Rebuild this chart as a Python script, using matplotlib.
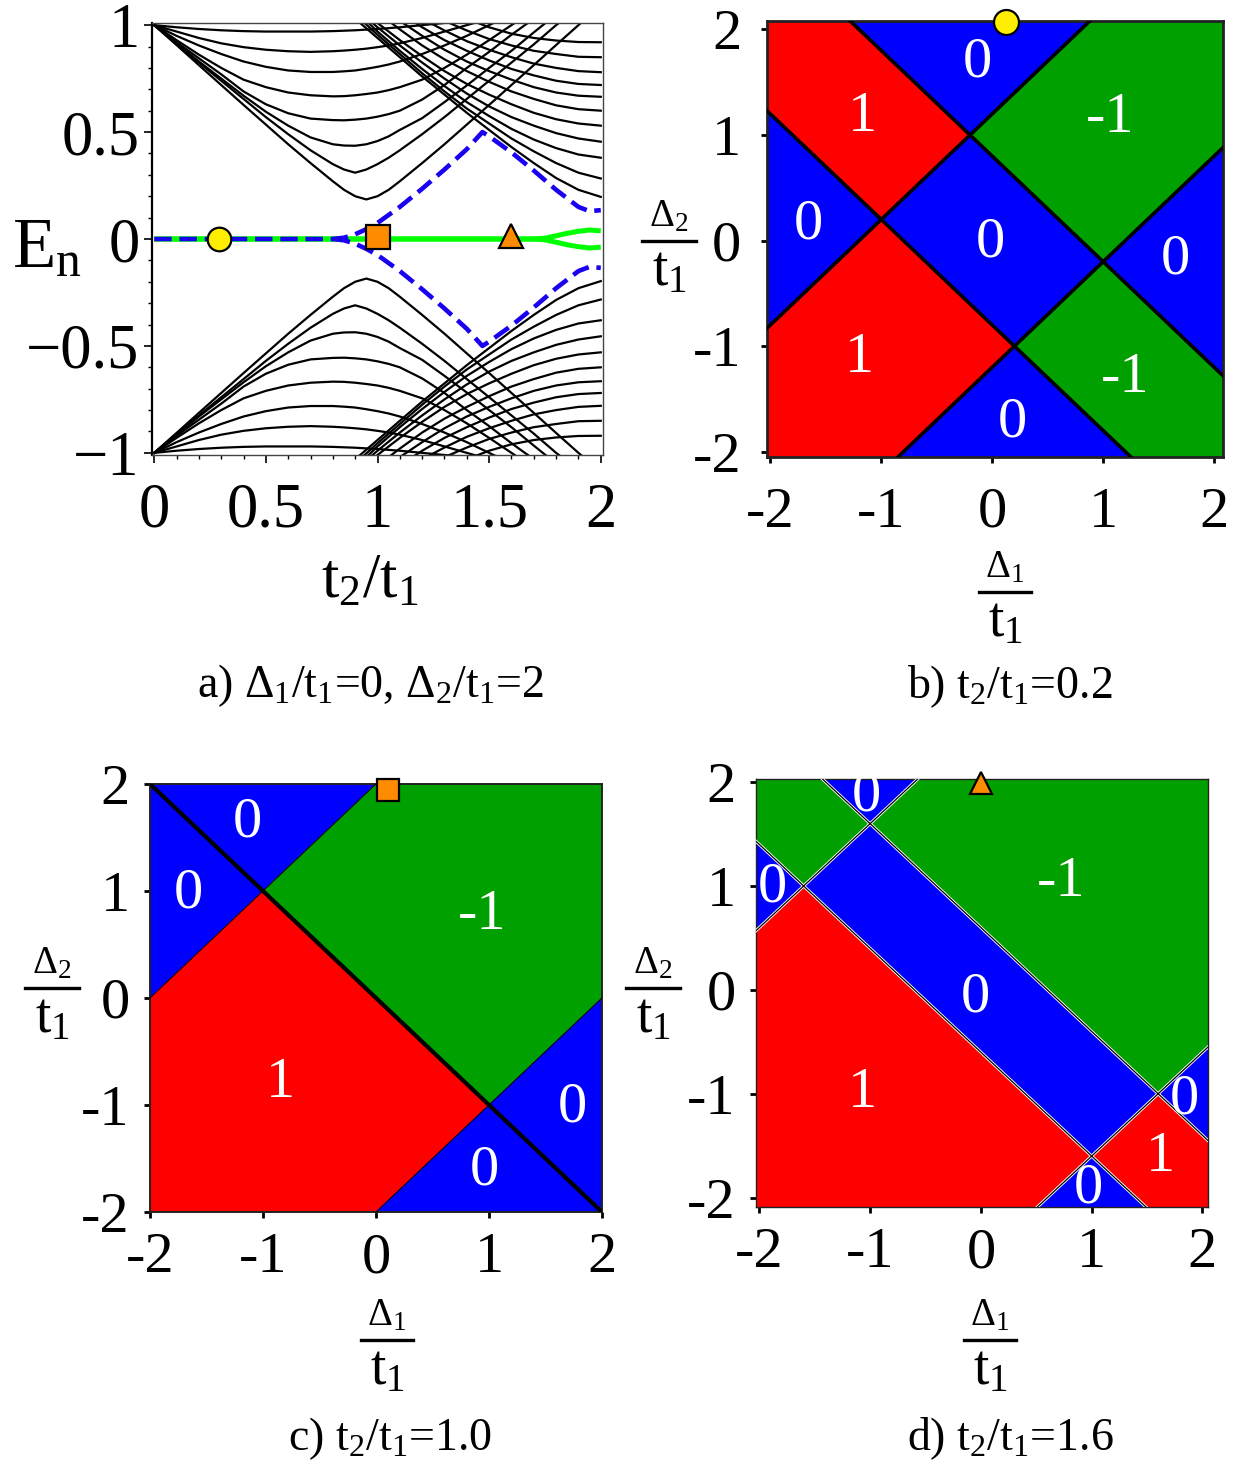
import matplotlib
matplotlib.use("Agg")
import matplotlib.pyplot as plt
from matplotlib.patches import Polygon
from matplotlib.lines import Line2D
from matplotlib.ticker import MultipleLocator
import numpy as np

plt.rcParams['font.family'] = ['Liberation Serif', 'DejaVu Serif']
plt.rcParams['mathtext.fontset'] = 'custom'
plt.rcParams['mathtext.rm'] = 'Liberation Serif'
plt.rcParams['mathtext.it'] = 'Liberation Serif:italic'
plt.rcParams['mathtext.bf'] = 'Liberation Serif:bold'

# ---------------- data: panel a (spectrum, upper half; lower half is its mirror) -------------
TV = [0.0, 0.1, 0.2, 0.3, 0.4, 0.5, 0.6, 0.7, 0.8, 0.85, 0.9, 0.95, 1.0, 1.05,
      1.1, 1.2, 1.3, 1.4, 1.5, 1.6, 1.7, 1.8, 1.9, 2.0]
V1 = [1.0, 0.907, 0.813, 0.72, 0.627, 0.535, 0.443, 0.355, 0.27, 0.23, 0.2, 0.185, 0.2, 0.23,
      0.27, 0.355, 0.443, 0.535, 0.627, 0.72, 0.813, 0.907, 1.0, 1.09]
V2 = [1.0, 0.91, 0.825, 0.74, 0.655, 0.57, 0.49, 0.415, 0.35, 0.325, 0.31, 0.325, 0.35, 0.38,
      0.415, 0.49, 0.57, 0.655, 0.74, 0.825, 0.91, 1.0, 1.08, 1.16]
V3 = [1.0, 0.915, 0.83, 0.75, 0.67, 0.595, 0.53, 0.475, 0.443, 0.437, 0.436, 0.443, 0.458, 0.48,
      0.51, 0.565, 0.64, 0.718, 0.80, 0.88, 0.966, 1.05, 1.13, 1.2]
V4 = [1.0, 0.92, 0.845, 0.77, 0.69, 0.63, 0.588, 0.563, 0.556, 0.555, 0.558, 0.563, 0.572, 0.584,
      0.6, 0.652, 0.72, 0.8, 0.875, 0.955, 1.03, 1.1, 1.17, 1.24]
V5 = [1.0, 0.93, 0.862, 0.8, 0.745, 0.71, 0.685, 0.672, 0.667, 0.668, 0.672, 0.678, 0.685, 0.696,
      0.71, 0.745, 0.8, 0.862, 0.93, 1.0, 1.07, 1.14, 1.2, 1.27]
V6 = [1.0, 0.95, 0.905, 0.865, 0.83, 0.805, 0.788, 0.781, 0.781, 0.784, 0.788, 0.796, 0.805, 0.816,
      0.83, 0.865, 0.905, 0.95, 1.0, 1.05, 1.1, 1.15, 1.2, 1.25]
V7 = [1.0, 0.97, 0.94, 0.915, 0.897, 0.885, 0.878, 0.875, 0.878, 0.881, 0.885, 0.89, 0.897, 0.905,
      0.915, 0.94, 0.97, 1.0, 1.03, 1.06, 1.09, 1.12, 1.15, 1.18]
V8 = [1.0, 0.99, 0.982, 0.976, 0.972, 0.97, 0.97, 0.97, 0.972, 0.974, 0.976, 0.979, 0.982, 0.986,
      0.99, 1.0, 1.01, 1.02, 1.03, 1.04, 1.05, 1.06, 1.07, 1.08]

TW = [0.9, 1.0, 1.1, 1.2, 1.3, 1.4, 1.5, 1.6, 1.7, 1.8, 1.9, 2.0]
W1 = [1.03, 0.94, 0.85, 0.76, 0.675, 0.59, 0.51, 0.43, 0.355, 0.285, 0.23, 0.197]
W2 = [1.05, 0.955, 0.865, 0.775, 0.69, 0.61, 0.54, 0.47, 0.41, 0.355, 0.31, 0.283]
W3 = [1.07, 0.97, 0.88, 0.795, 0.715, 0.64, 0.575, 0.515, 0.465, 0.425, 0.395, 0.38]
W4 = [1.08, 0.99, 0.905, 0.825, 0.75, 0.68, 0.62, 0.57, 0.53, 0.495, 0.47, 0.455]
W5 = [1.1, 1.01, 0.93, 0.855, 0.785, 0.725, 0.675, 0.63, 0.59, 0.56, 0.54, 0.53]
W6 = [1.15, 1.06, 0.98, 0.905, 0.84, 0.785, 0.735, 0.69, 0.655, 0.625, 0.607, 0.6]
W7 = [1.18, 1.1, 1.02, 0.95, 0.885, 0.83, 0.785, 0.745, 0.71, 0.685, 0.67, 0.665]
W8 = [1.2, 1.13, 1.06, 0.99, 0.93, 0.88, 0.835, 0.795, 0.765, 0.74, 0.725, 0.72]
W9 = [1.25, 1.17, 1.1, 1.03, 0.975, 0.925, 0.885, 0.85, 0.82, 0.8, 0.785, 0.78]
W10 = [1.3, 1.22, 1.15, 1.08, 1.02, 0.975, 0.935, 0.905, 0.88, 0.865, 0.852, 0.85]
W11 = [1.35, 1.27, 1.2, 1.13, 1.08, 1.03, 0.99, 0.96, 0.94, 0.928, 0.921, 0.92]

# edge (blue dashed) and Majorana (green) modes, upper branch
TB = [0.0, 0.8, 0.85, 0.9, 0.95, 1.0, 1.1, 1.2, 1.3, 1.4, 1.47, 1.5, 1.6, 1.7, 1.8, 1.9, 1.95, 2.0]
EB = [0.0, 0.0, 0.006, 0.022, 0.046, 0.075, 0.15, 0.235, 0.325, 0.42, 0.5, 0.48, 0.405, 0.32, 0.23, 0.15, 0.13, 0.135]
TG = [0.0, 1.7, 1.75, 1.8, 1.85, 1.9, 1.95, 2.0]
EG = [0.0, 0.0, 0.004, 0.015, 0.027, 0.036, 0.042, 0.038]

# markers (t2/t1 values of panels b, c, d)
MARK_T = [0.29, 1.0, 1.6]
MARK_E = [0.0, 0.01, 0.015]

# ---------------- data: phase diagrams ----------------
RED, BLUE, GREEN = '#FF0000', '#0000FF', '#00A000'

PB_LIM = ((-2.03, 2.08), (-2.05, 2.08))
PB_POLYS = [
    [(-2.03, 2.08), (-1.28, 2.08), (-0.2, 1.0), (-1.0, 0.2), (-2.03, 1.23)],
    [(-1.28, 2.08), (0.88, 2.08), (-0.2, 1.0)],
    [(0.88, 2.08), (2.08, 2.08), (2.08, 0.88), (1.0, -0.2), (-0.2, 1.0)],
    [(-2.03, 1.23), (-1.0, 0.2), (-2.03, -0.83)],
    [(-0.2, 1.0), (1.0, -0.2), (0.2, -1.0), (-1.0, 0.2)],
    [(2.08, 0.88), (2.08, -1.28), (1.0, -0.2)],
    [(-2.03, -0.83), (-1.0, 0.2), (0.2, -1.0), (-0.85, -2.05), (-2.03, -2.05)],
    [(0.2, -1.0), (-0.85, -2.05), (1.25, -2.05)],
    [(1.0, -0.2), (2.08, -1.28), (2.08, -2.05), (1.25, -2.05), (0.2, -1.0)],
]
PB_COLORS = [RED, BLUE, GREEN, BLUE, BLUE, BLUE, RED, BLUE, GREEN]
PB_LINES = [((-1.28, 2.08), (2.08, -1.28)), ((-2.03, 1.23), (1.25, -2.05)),
            ((-2.03, -0.83), (0.88, 2.08)), ((-0.85, -2.05), (2.08, 0.88))]
PB_LABELS = [(-0.13, 1.69, '0'), (-1.17, 1.17, '1'), (1.06, 1.16, '-1'),
             (-1.66, 0.15, '0'), (-0.02, -0.02, '0'), (1.65, -0.18, '0'),
             (-1.2, -1.11, '1'), (1.2, -1.3, '-1'), (0.18, -1.72, '0')]

PC_LIM = ((-2.0, 2.0), (-2.0, 2.0))
PC_POLYS = [
    [(-2, 2), (0, 2), (-1, 1)],
    [(-2, 2), (-1, 1), (-2, 0)],
    [(-1, 1), (0, 2), (2, 2), (2, 0), (1, -1)],
    [(-2, 0), (-1, 1), (1, -1), (0, -2), (-2, -2)],
    [(1, -1), (2, 0), (2, -2)],
    [(0, -2), (1, -1), (2, -2)],
]
PC_COLORS = [BLUE, BLUE, GREEN, RED, BLUE, BLUE]
PC_THICK = [((-2, 2), (2, -2))]
PC_THIN = [((-2, 0), (0, 2)), ((0, -2), (2, 0))]
PC_LABELS = [(-1.14, 1.64, '0'), (-1.66, 0.98, '0'), (0.94, 0.78, '-1'),
             (-0.85, -0.79, '1'), (1.74, -1.02, '0'), (0.96, -1.61, '0')]

PD_LIM = ((-2.03, 2.05), (-2.09, 2.03))
PD_POLYS = [
    [(-2.03, 2.03), (-1.43, 2.03), (-1.0, 1.6), (-1.6, 1.0), (-2.03, 1.43)],
    [(-1.43, 2.03), (-0.57, 2.03), (-1.0, 1.6)],
    [(-0.57, 2.03), (2.05, 2.03), (2.05, -0.55), (1.6, -1.0), (-1.0, 1.6)],
    [(-2.03, 1.43), (-1.6, 1.0), (-2.03, 0.57)],
    [(-1.0, 1.6), (1.6, -1.0), (1.0, -1.6), (-1.6, 1.0)],
    [(2.05, -0.55), (2.05, -1.45), (1.6, -1.0)],
    [(-2.03, 0.57), (-1.6, 1.0), (1.0, -1.6), (0.51, -2.09), (-2.03, -2.09)],
    [(1.0, -1.6), (0.51, -2.09), (1.49, -2.09)],
    [(1.6, -1.0), (2.05, -1.45), (2.05, -2.09), (1.49, -2.09), (1.0, -1.6)],
]
PD_COLORS = [GREEN, BLUE, GREEN, BLUE, BLUE, BLUE, RED, BLUE, RED]
PD_LINES = [((-1.43, 2.03), (2.05, -1.45)), ((-2.03, 1.43), (1.49, -2.09)),
            ((-2.03, 0.57), (-0.57, 2.03)), ((0.51, -2.09), (2.05, -0.55))]
PD_LABELS = [(-1.03, 1.86, '0'), (-1.88, 0.99, '0'), (0.72, 1.04, '-1'),
             (-0.05, -0.07, '0'), (-1.07, -0.99, '1'), (1.84, -1.06, '0'),
             (1.62, -1.61, '1'), (0.97, -1.91, '0')]

MARK_B = (0.12, 2.07)
MARK_C = (0.11, 1.94)
MARK_D = (0.0, 1.99)

PHASE_TICKS = [-2, -1, 0, 1, 2]
PHASE_TICKLABELS = ['-2', '-1', '0', '1', '2']

# ---------------- figure ----------------
W, H = 1235, 1461
fig = plt.figure(figsize=(W / 100, H / 100), dpi=100)


def ax_px(l, t, r, b):
    return fig.add_axes([l / W, 1 - b / H, (r - l) / W, (b - t) / H])


def ftext(x, y, s, **kw):
    return fig.text(x / W, 1 - y / H, s, **kw)


def frac(xc, ybar, halfw, num, den, fsn=28, fsd=40):
    # numerator sits just above the bar, denominator just below it
    ftext(xc, ybar - 6, num, ha='center', va='bottom', fontsize=fsn)
    fig.add_artist(Line2D([(xc - halfw) / W, (xc + halfw) / W], [1 - ybar / H] * 2,
                          color='black', lw=2.4, transform=fig.transFigure))
    ftext(xc, ybar + 4, den, ha='center', va='top', fontsize=fsd)


# ---- panel a ----
axa = ax_px(152, 23, 603, 455)
for E in [V1, V2, V3, V4, V5, V6, V7, V8]:
    e = np.array(E)
    axa.plot(TV, e, color='black', lw=1.6, zorder=2)
    axa.plot(TV, -e, color='black', lw=1.6, zorder=2)
for E in [W1, W2, W3, W4, W5, W6, W7, W8, W9, W10, W11]:
    e = np.array(E)
    axa.plot(TW, e, color='black', lw=1.6, zorder=2)
    axa.plot(TW, -e, color='black', lw=1.6, zorder=2)
eg = np.array(EG)
axa.plot(TG, eg, color='#00FF00', lw=3.6, zorder=3, solid_capstyle='butt')
axa.plot(TG, -eg, color='#00FF00', lw=3.6, zorder=3, solid_capstyle='butt')
eb = np.array(EB)
axa.plot(TB, eb, color='#1A00F0', lw=3.3, ls=(0, (3.8, 1.7)), zorder=4)
axa.plot(TB[1:], -eb[1:], color='#1A00F0', lw=3.3, ls=(0, (3.8, 1.7)), zorder=4)
axa.plot(MARK_T[0], MARK_E[0], 'o', ms=17, mfc='#FFEE00', mec='black', mew=1.6, zorder=6)
axa.plot(MARK_T[1], MARK_E[1], 's', ms=17, mfc='#FF8C00', mec='black', mew=1.6, zorder=6)
axa.plot(MARK_T[2], MARK_E[2], '^', ms=17, mfc='#FF8C00', mec='black', mew=1.6, zorder=6)
axa.set_xlim(-0.01, 2.01)
axa.set_ylim(-1.01, 1.01)
axa.set_xticks([0, 0.5, 1, 1.5, 2])
axa.set_xticklabels(['0', '0.5', '1', '1.5', '2'])
axa.set_yticks([-1, -0.5, 0, 0.5, 1])
axa.set_yticklabels(['\u22121', '\u22120.5', '0', '0.5', '1'])
axa.xaxis.set_minor_locator(MultipleLocator(0.1))
axa.yaxis.set_minor_locator(MultipleLocator(0.1))
axa.tick_params(which='major', direction='out', length=6, width=1.2, labelsize=45)
axa.tick_params(axis='x', which='major', pad=14)
axa.tick_params(axis='y', which='major', pad=3)
axa.tick_params(which='minor', direction='out', length=3, width=1.0)
for s in axa.spines.values():
    s.set_linewidth(1.0)
    s.set_color('#444444')
axa.spines['left'].set_linewidth(1.6)
axa.spines['left'].set_color('black')

ftext(12, 267, r'$\mathrm{E_n}$', fontsize=51, ha='left', va='baseline')
ftext(370, 597, r'$\mathrm{t_2/t_1}$', fontsize=45, ha='center', va='baseline')
ftext(370, 697, r'a) $\mathrm{\Delta_1/t_1}$=0, $\mathrm{\Delta_2/t_1}$=2',
      fontsize=33, ha='center', va='baseline')


def phase_panel(box, lim, polys, colors, labels, spine_lw):
    ax = ax_px(*box)
    for verts, c in zip(polys, colors):
        ax.add_patch(Polygon(verts, closed=True, facecolor=c, edgecolor=c, lw=0.5, zorder=1))
    for x, y, s in labels:
        ax.text(x, y, s, color='white', fontsize=42, ha='center', va='center', zorder=5)
    ax.set_xlim(*lim[0])
    ax.set_ylim(*lim[1])
    ax.set_xticks(PHASE_TICKS)
    ax.set_xticklabels(PHASE_TICKLABELS)
    ax.set_yticks(PHASE_TICKS)
    ax.set_yticklabels(PHASE_TICKLABELS)
    ax.tick_params(direction='out', length=4.5, width=2.0, labelsize=42)
    for s in ax.spines.values():
        s.set_linewidth(spine_lw)
        s.set_color('#222222')
    return ax


# ---- panel b ----
axb = phase_panel((767, 21, 1223, 457), PB_LIM, PB_POLYS, PB_COLORS, PB_LABELS, 2.0)
for (p, q) in PB_LINES:
    axb.plot([p[0], q[0]], [p[1], q[1]], color='black', lw=2.6, zorder=3)
axb.tick_params(axis='x', pad=17)
axb.tick_params(axis='y', pad=14)
axb.plot(*MARK_B, 'o', ms=18, mfc='#FFEE00', mec='black', mew=1.6, clip_on=False, zorder=6)
frac(1005, 592, 26, r'$\mathrm{\Delta_1}$', r'$\mathrm{t_1}$')
frac(669, 241, 27, r'$\mathrm{\Delta_2}$', r'$\mathrm{t_1}$')
ftext(1010, 698, r'b) $\mathrm{t_2/t_1}$=0.2', fontsize=33, ha='center', va='baseline')

# ---- panel c ----
axc = phase_panel((150, 784, 602, 1212), PC_LIM, PC_POLYS, PC_COLORS, PC_LABELS, 1.4)
for (p, q) in PC_THICK:
    axc.plot([p[0], q[0]], [p[1], q[1]], color='black', lw=3.0, zorder=3)
for (p, q) in PC_THIN:
    axc.plot([p[0], q[0]], [p[1], q[1]], color='black', lw=0.7, zorder=3)
axc.tick_params(axis='x', pad=10)
axc.tick_params(axis='y', pad=10)
axc.plot(*MARK_C, 's', ms=16, mfc='#FF8C00', mec='black', mew=1.6, clip_on=False, zorder=6)
frac(52, 988, 27, r'$\mathrm{\Delta_2}$', r'$\mathrm{t_1}$')
frac(387, 1340, 26, r'$\mathrm{\Delta_1}$', r'$\mathrm{t_1}$')
ftext(390, 1450, r'c) $\mathrm{t_2/t_1}$=1.0', fontsize=33, ha='center', va='baseline')

# ---- panel d ----
axd = phase_panel((756, 779, 1208, 1207), PD_LIM, PD_POLYS, PD_COLORS, PD_LABELS, 1.0)
for (p, q) in PD_LINES:
    axd.plot([p[0], q[0]], [p[1], q[1]], color='white', lw=2.2, zorder=2.9)
    axd.plot([p[0], q[0]], [p[1], q[1]], color='black', lw=0.9, zorder=3)
axd.tick_params(axis='x', pad=10)
axd.tick_params(axis='y', pad=10)
axd.plot(*MARK_D, '^', ms=16, mfc='#FF8C00', mec='black', mew=1.6, clip_on=False, zorder=6)
frac(653, 988, 27, r'$\mathrm{\Delta_2}$', r'$\mathrm{t_1}$')
frac(990, 1340, 26, r'$\mathrm{\Delta_1}$', r'$\mathrm{t_1}$')
ftext(1010, 1450, r'd) $\mathrm{t_2/t_1}$=1.6', fontsize=33, ha='center', va='baseline')

fig.savefig('out.png', dpi=100)
